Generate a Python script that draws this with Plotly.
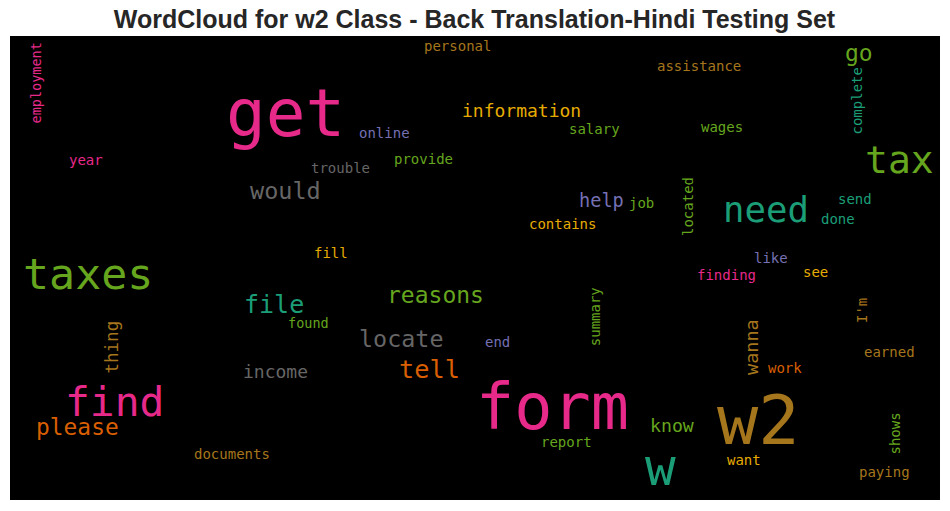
import plotly.graph_objects as go

# ---- data: word cloud entries (pixel-space layout of the rendered cloud) ----
words = ["employment", "personal", "get", "online", "year", "trouble", "provide",
         "would", "fill", "information", "assistance", "go", "complete", "salary",
         "wages", "tax", "help", "job", "contains", "located", "need", "send",
         "done", "like", "taxes", "file", "reasons", "found", "thing", "locate",
         "tell", "income", "find", "please", "documents", "finding", "see", "I'm",
         "end", "summary", "wanna", "work", "earned", "form", "know", "w2",
         "report", "w", "want", "shows", "paying"]
word_x = [35, 457, 285, 384, 86, 340, 423,
          285, 331, 521, 699, 859, 856, 594,
          722, 899, 601, 641, 562, 688, 766, 855,
          838, 771, 88, 274, 435, 308, 111, 401,
          429, 275, 114, 77, 232, 726, 815, 861.5,
          497, 594.7, 751, 785, 889, 552, 672, 758,
          566, 660, 744, 894, 884]
word_y = [83.5, 45.5, 113, 132.5, 160, 168, 159,
          190.5, 253, 110.6, 66, 53, 101.5, 129,
          127, 160, 200.4, 203, 224, 207, 209.2, 199,
          219, 258, 273.8, 304, 294.5, 323, 347.5, 338.7,
          369.7, 371.6, 402, 426.7, 454, 275, 272, 310.5,
          342, 316.5, 347, 368, 352, 407.2, 425.4, 420.4,
          442, 467.7, 460, 433.5, 472]
word_size = [13.5, 14, 66, 14, 14, 14, 14,
             23.5, 14, 18, 14, 23, 14, 14,
             14, 38, 18.6, 14, 14, 14, 35.7, 14,
             14, 14, 43.3, 25, 23, 13.5, 17.5, 23.4,
             25.3, 18, 41.3, 22.9, 14, 14, 14, 14,
             14, 14, 18.5, 14, 14, 63.5, 18.2, 68.5,
             14, 51, 14, 14, 14]
TEAL, ORANGE, PURPLE, PINK = "#1b9e77", "#d95f02", "#7570b3", "#e7298a"
GREEN, YELLOW, BROWN, GRAY = "#66a61e", "#e6ab02", "#a6761d", "#666666"
word_color = [PINK, BROWN, PINK, PURPLE, PINK, GRAY, GREEN,
              GRAY, YELLOW, YELLOW, BROWN, GREEN, TEAL, GREEN,
              GREEN, GREEN, PURPLE, GREEN, YELLOW, GREEN, TEAL, TEAL,
              TEAL, PURPLE, GREEN, TEAL, GREEN, GREEN, BROWN, GRAY,
              ORANGE, GRAY, PINK, ORANGE, BROWN, PINK, YELLOW, BROWN,
              PURPLE, GREEN, BROWN, ORANGE, BROWN, PINK, GREEN, BROWN,
              GREEN, TEAL, YELLOW, GREEN, BROWN]
vertical_words = {"employment", "complete", "located", "thing", "I'm",
                  "summary", "wanna", "shows"}

title_text = "WordCloud for w2 Class - Back Translation-Hindi Testing Set"

fig = go.Figure()
fig.add_trace(go.Scatter(x=[None], y=[None], mode="markers", showlegend=False,
                         hoverinfo="skip"))

annotations = []
for w, x, y, s, c in zip(words, word_x, word_y, word_size, word_color):
    annotations.append(dict(
        text=w, x=x, y=y, xref="x", yref="y", showarrow=False,
        xanchor="center", yanchor="middle",
        textangle=-90 if w in vertical_words else 0,
        font=dict(family="DejaVu Sans Mono", size=s, color=c),
    ))

# the page body adds an 8px offset, so the figure is sized to fill the rest
W, H = 942, 503
fig.update_layout(
    width=W, height=H,
    margin=dict(l=2, r=10, t=28, b=11, pad=0),
    paper_bgcolor="white", plot_bgcolor="black",
    title=dict(text="<b>" + title_text + "</b>", x=466.5 / W, xref="container",
               xanchor="center", y=1 - 11.5 / H, yref="container",
               yanchor="middle",
               font=dict(family="Liberation Sans, Arial, sans-serif", size=25,
                         color="#262626")),
    xaxis=dict(range=[10, 940], visible=False, fixedrange=True),
    yaxis=dict(range=[500, 36], visible=False, fixedrange=True),
    annotations=annotations,
    showlegend=False,
)

fig.write_html("out.html")
